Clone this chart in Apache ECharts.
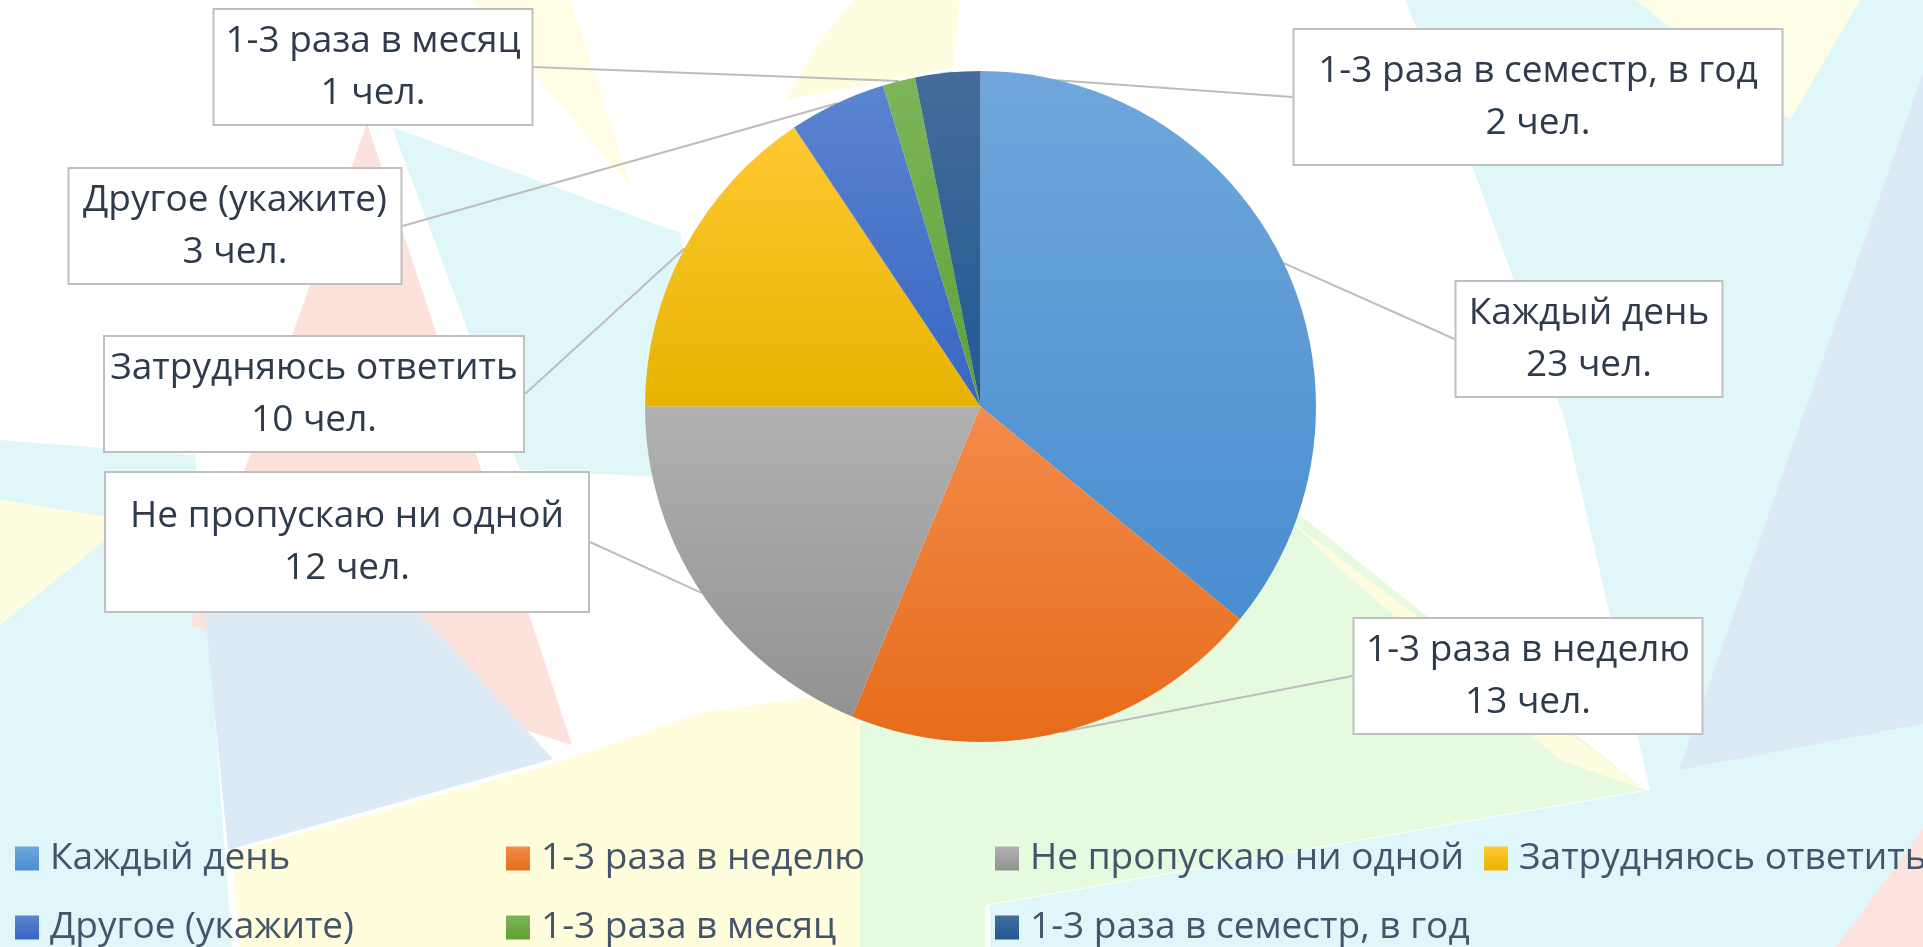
<!DOCTYPE html>
<html>
<head>
<meta charset="utf-8">
<script src="https://cdn.jsdelivr.net/npm/echarts@6/dist/echarts.min.js"></script>
<style>
  html, body { margin: 0; padding: 0; background: #fff; }
  #chart { width: 1923px; height: 947px; }
</style>
</head>
<body>
<div id="chart"></div>
<script>
// data
var categories = ['Каждый день', '1-3 раза в неделю', 'Не пропускаю ни одной', 'Затрудняюсь ответить',
                  'Другое (укажите)', '1-3 раза в месяц', '1-3 раза в семестр, в год'];
var counts = [23, 13, 12, 10, 3, 1, 2];
var unit = 'чел.';

// styles
var topColors = ['#6fa7dc', '#f38b4a', '#b1b1b1', '#ffc832', '#5b84d0', '#7db55a', '#456c9a'];
var botColors = ['#4a8dcf', '#e66c1a', '#929292', '#e6b400', '#3766c3', '#5f9f33', '#1f5a93'];
var FONT = '"Open Sans", "Noto Sans", sans-serif';

// label boxes: centre x, centre y, width, vertical padding
var labelBoxes = [
  [1589, 339, 265, 5],
  [1528, 676, 347, 5],
  [347, 542, 482, 17],
  [314, 394, 418, 5],
  [235, 226, 331, 5],
  [373, 67, 317, 5],
  [1538, 97, 487, 15]
];
// legend slots: left, top (same order as categories)
var legendSlots = [
  [15, 840], [506, 840], [995, 840], [1484, 840],
  [15, 909], [506, 909], [995, 909]
];

var chart = echarts.init(document.getElementById('chart'));

function grad(i) {
  return new echarts.graphic.LinearGradient(0, 0, 0, 1, [
    { offset: 0, color: topColors[i] },
    { offset: 1, color: botColors[i] }
  ]);
}

var pieData = categories.map(function (name, i) {
  return {
    name: name,
    value: counts[i],
    itemStyle: { color: grad(i) },
    label: { width: labelBoxes[i][2] - 4, padding: [labelBoxes[i][3], 2] }
  };
});

// pastel background shapes
var bgShapes = [
  ['#e0f7fa', [[1405,0],[1923,0],[1923,947],[990,947],[990,905],[1650,790],[1565,420],[1470,160]]],
  ['#dceaf6', [[1923,73],[1923,724],[1679,770]]],
  ['#fefde6', [[1635,0],[1860,0],[1790,120]]],
  ['#fde3de', [[1836,947],[1923,829],[1923,947]]],
  ['#e0f7fa', [[0,440],[195,455],[232,947],[0,947]]],
  ['#fffde0', [[0,500],[130,520],[0,625]]],
  ['#fde2dc', [[367,123],[572,745],[190,625]]],
  ['#e0f7fa', [[392,127],[680,233],[720,480],[520,470]]],
  ['#dceaf6', [[205,614],[420,614],[553,759],[228,850]]],
  ['#fffddc', [[232,852],[560,762],[700,713],[860,690],[860,947],[240,947]]],
  ['#e6fae0', [[860,690],[1000,640],[1300,515],[1645,790],[985,905],[985,947],[860,947]]],
  ['#fffde0', [[1290,520],[1645,790],[1560,760],[1330,560]]],
  ['#fffde0', [[853,0],[960,0],[953,67],[787,100],[813,50]]],
  ['#fffde3', [[471,0],[570,0],[631,187]]]
];

var graphics = bgShapes.map(function (s) {
  return {
    type: 'polygon',
    silent: true,
    z: -10,
    shape: { points: s[1] },
    style: { fill: s[0] }
  };
});

var legends = categories.map(function (name, i) {
  return {
    left: legendSlots[i][0],
    top: legendSlots[i][1],
    padding: 0,
    itemWidth: 24,
    itemHeight: 24,
    icon: 'rect',
    selectedMode: false,
    data: [name],
    textStyle: {
      fontFamily: FONT,
      fontSize: 37,
      lineHeight: 24,
      color: '#44546a',
      padding: [0, 0, 0, 6]
    }
  };
});

var option = {
  backgroundColor: '#ffffff',
  animation: false,
  graphic: graphics,
  legend: legends,
  series: [{
    type: 'pie',
    center: [980.5, 406.5],
    radius: 335.5,
    startAngle: 90,
    clockwise: true,
    avoidLabelOverlap: false,
    data: pieData,
    emphasis: { disabled: true },
    label: {
      show: true,
      formatter: function (p) { return p.name + '\n' + p.value + ' ' + unit; },
      fontFamily: FONT,
      fontSize: 37,
      lineHeight: 52,
      color: '#2f3b4c',
      align: 'center',
      backgroundColor: '#ffffff',
      borderColor: '#bfbfbf',
      borderWidth: 2
    },
    labelLine: {
      show: true,
      length: 10,
      length2: 0,
      lineStyle: { color: '#bdbdbd', width: 2 }
    },
    labelLayout: function (p) {
      var b = labelBoxes[p.dataIndex];
      return { x: b[0], y: b[1], align: 'center', verticalAlign: 'middle' };
    }
  }]
};

chart.setOption(option);
</script>
</body>
</html>
